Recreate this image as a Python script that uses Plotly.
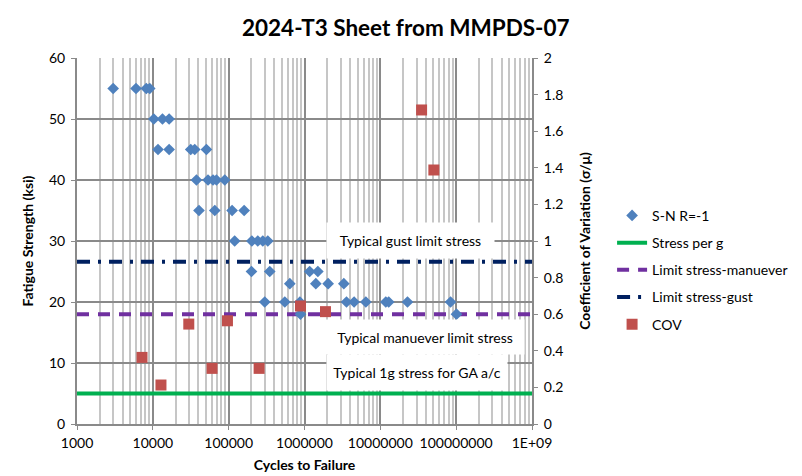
import plotly.graph_objects as go

# ---------------- data ----------------
sn_cycles = [3000, 6000, 8200, 9100,
             10300, 13400, 16400,
             11700, 16400, 31600, 35700, 50900,
             37600, 53400, 62200, 69000, 88900,
             40600, 65600, 111000, 160000,
             120000, 202000, 242000, 282000, 328000,
             200000, 348000, 1170000, 1500000,
             640000, 1410000, 2050000, 3300000,
             299000, 550000, 870000, 3580000, 4510000, 6440000, 11800000, 12900000, 22800000, 84300000,
             885000, 101000000]
sn_stress = [55, 55, 55, 55,
             50, 50, 50,
             45, 45, 45, 45, 45,
             40, 40, 40, 40, 40,
             35, 35, 35, 35,
             30, 30, 30, 30, 30,
             25, 25, 25, 25,
             23, 23, 23, 23,
             20, 20, 20, 20, 20, 20, 20, 20, 20, 20,
             18, 18]

cov_cycles = [7200, 12800, 29800, 60400, 96400, 252000, 885000, 1890000, 35000000, 50800000]
cov_values = [0.364, 0.213, 0.546, 0.304, 0.564, 0.304, 0.645, 0.614, 1.716, 1.388]

line_cycles = [1000, 1e9]
stress_per_g = 5
limit_maneuver = 18
limit_gust = 26.6

x_tick_vals = [1e3, 1e4, 1e5, 1e6, 1e7, 1e8, 1e9]
x_tick_text = ["1000", "10000", "100000", "1000000", "10000000", "100000000", "1E+09"]
x_minor_vals = [m * 10 ** e for e in range(3, 9) for m in range(2, 10)]

FONT = "Lato, Carlito, Calibri, sans-serif"
MAJ = "#8a8a8a"
MIN = "#c6c6c6"

fig = go.Figure()

fig.add_trace(go.Scatter(
    x=line_cycles, y=[stress_per_g] * 2, mode="lines", name="Stress per g",
    line=dict(color="#00b050", width=4), legendrank=2, legendgroup="b"))
fig.add_trace(go.Scatter(
    x=line_cycles, y=[limit_maneuver] * 2, mode="lines", name="Limit stress-manuever",
    line=dict(color="#7030a0", width=4, dash="12px,9px"), legendrank=3, legendgroup="c"))
fig.add_trace(go.Scatter(
    x=line_cycles, y=[limit_gust] * 2, mode="lines", name="Limit stress-gust",
    line=dict(color="#002060", width=4, dash="13px,8px,3px,8px"), legendrank=4, legendgroup="d"))
fig.add_trace(go.Scatter(
    x=sn_cycles, y=sn_stress, mode="markers", name="S-N R=-1",
    marker=dict(symbol="diamond", size=9, color="#4f81bd"), legendrank=1, legendgroup="a"))
fig.add_trace(go.Scatter(
    x=cov_cycles, y=cov_values, mode="markers", name="COV", yaxis="y2",
    marker=dict(symbol="square", size=11, color="#c0504d"), legendrank=5, legendgroup="e"))

ann_font = dict(family=FONT, size=14, color="#000000")
ann_common = dict(xref="paper", yref="paper", showarrow=False, bgcolor="white",
                  xanchor="center", yanchor="middle", align="center", font=ann_font)
annotations = [
    dict(text="Typical gust limit stress", x=0.7322, y=0.5004, width=165, height=33, **ann_common),
    dict(text="Typical manuever limit stress", x=0.765, y=0.2379, width=196, height=32, **ann_common),
    dict(text="Typical 1g stress for GA a/c", x=0.7465, y=0.1395, width=178, height=33, **ann_common),
]

fig.update_layout(
    width=794, height=468,
    margin=dict(l=69, r=270, t=50, b=52, autoexpand=False),
    paper_bgcolor="white", plot_bgcolor="white",
    font=dict(family=FONT, size=14, color="#000000"),
    title=dict(text="<b>2024-T3 Sheet from MMPDS-07</b>", x=0.501, y=0.957,
               xanchor="center", yanchor="middle", font=dict(size=22.5, family=FONT),
               automargin=False),
    xaxis=dict(type="log", range=[3, 9], tickmode="array", tickvals=x_tick_vals, ticktext=x_tick_text,
               showgrid=True, gridcolor=MAJ, gridwidth=2,
               minor=dict(tickmode="array", tickvals=x_minor_vals, showgrid=True,
                          gridcolor=MIN, gridwidth=2, ticks=""),
               showline=True, linecolor=MAJ, linewidth=2, ticks="outside", ticklen=4, tickcolor=MAJ,
               zeroline=False, automargin=False, ticklabelstandoff=1,
               title=dict(text="<b>Cycles to Failure</b>", font=dict(size=14), standoff=10)),
    yaxis=dict(range=[0, 60], dtick=10, showgrid=True, gridcolor=MAJ, gridwidth=2,
               showline=True, linecolor=MAJ, linewidth=2, ticks="outside", ticklen=4, tickcolor=MAJ,
               zeroline=False, automargin=False, ticklabelstandoff=3,
               title=dict(text="<b>Fatigue Strength (ksi)</b>", font=dict(size=14), standoff=12)),
    yaxis2=dict(range=[0, 2], dtick=0.2, overlaying="y", side="right", showgrid=False,
                showline=True, linecolor=MAJ, linewidth=2, ticks="outside", ticklen=4, tickcolor=MAJ,
                zeroline=False, automargin=False, ticklabelstandoff=3,
                title=dict(text="<b>Coefficient of Variation (σ/μ)</b>", font=dict(size=14), standoff=18)),
    legend=dict(x=1.176, y=0.6125, xanchor="left", yanchor="top", traceorder="grouped",
                tracegroupgap=6, font=dict(size=14), bgcolor="rgba(0,0,0,0)"),
    annotations=annotations,
)

fig.write_html("out.html")
